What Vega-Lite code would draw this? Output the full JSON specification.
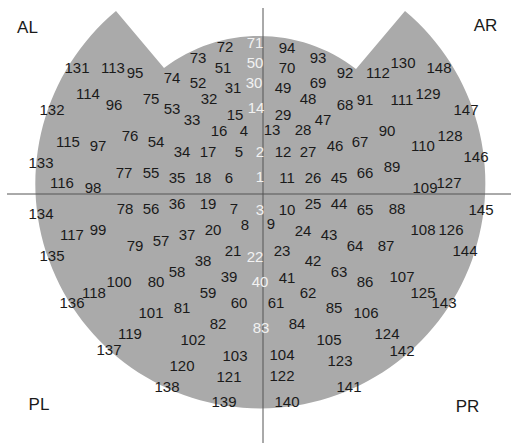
{
  "$schema": "https://vega.github.io/schema/vega-lite/v6.json",
  "width": 511,
  "height": 443,
  "padding": 0,
  "autosize": {"type": "none"},
  "background": "#ffffff",
  "config": {"view": {"stroke": null}},
  "datasets": {
    "sensors": [
      {"ch":1,"x":-3,"y":17,"midline":true},{"ch":2,"x":-3,"y":42,"midline":true},{"ch":3,"x":-3,"y":-16,"midline":true},
      {"ch":4,"x":-19,"y":63,"midline":false},{"ch":5,"x":-24,"y":42,"midline":false},{"ch":6,"x":-34,"y":16,"midline":false},
      {"ch":7,"x":-29,"y":-15,"midline":false},{"ch":8,"x":-18,"y":-31,"midline":false},{"ch":9,"x":8,"y":-30,"midline":false},
      {"ch":10,"x":24,"y":-16,"midline":false},{"ch":11,"x":24,"y":16,"midline":false},{"ch":12,"x":20,"y":42,"midline":false},
      {"ch":13,"x":9,"y":64,"midline":false},{"ch":14,"x":-7,"y":86,"midline":true},{"ch":15,"x":-28,"y":79,"midline":false},
      {"ch":16,"x":-44,"y":63,"midline":false},{"ch":17,"x":-55,"y":42,"midline":false},{"ch":18,"x":-60,"y":16,"midline":false},
      {"ch":19,"x":-55,"y":-10,"midline":false},{"ch":20,"x":-50,"y":-36,"midline":false},{"ch":21,"x":-30,"y":-57,"midline":false},
      {"ch":22,"x":-8,"y":-63,"midline":true},{"ch":23,"x":19,"y":-57,"midline":false},{"ch":24,"x":40,"y":-37,"midline":false},
      {"ch":25,"x":50,"y":-10,"midline":false},{"ch":26,"x":50,"y":16,"midline":false},{"ch":27,"x":45,"y":42,"midline":false},
      {"ch":28,"x":40,"y":64,"midline":false},{"ch":29,"x":20,"y":79,"midline":false},{"ch":30,"x":-9,"y":111,"midline":true},
      {"ch":31,"x":-30,"y":106,"midline":false},{"ch":32,"x":-54,"y":95,"midline":false},{"ch":33,"x":-71,"y":74,"midline":false},
      {"ch":34,"x":-81,"y":42,"midline":false},{"ch":35,"x":-86,"y":16,"midline":false},{"ch":36,"x":-86,"y":-10,"midline":false},
      {"ch":37,"x":-76,"y":-41,"midline":false},{"ch":38,"x":-60,"y":-67,"midline":false},{"ch":39,"x":-34,"y":-83,"midline":false},
      {"ch":40,"x":-3,"y":-88,"midline":true},{"ch":41,"x":24,"y":-84,"midline":false},{"ch":42,"x":50,"y":-67,"midline":false},
      {"ch":43,"x":66,"y":-41,"midline":false},{"ch":44,"x":76,"y":-10,"midline":false},{"ch":45,"x":76,"y":16,"midline":false},
      {"ch":46,"x":72,"y":48,"midline":false},{"ch":47,"x":60,"y":74,"midline":false},{"ch":48,"x":45,"y":95,"midline":false},
      {"ch":49,"x":20,"y":106,"midline":false},{"ch":50,"x":-8,"y":131,"midline":true},{"ch":51,"x":-40,"y":126,"midline":false},
      {"ch":52,"x":-65,"y":111,"midline":false},{"ch":53,"x":-91,"y":85,"midline":false},{"ch":54,"x":-107,"y":52,"midline":false},
      {"ch":55,"x":-112,"y":21,"midline":false},{"ch":56,"x":-112,"y":-15,"midline":false},{"ch":57,"x":-102,"y":-47,"midline":false},
      {"ch":58,"x":-86,"y":-78,"midline":false},{"ch":59,"x":-55,"y":-99,"midline":false},{"ch":60,"x":-24,"y":-109,"midline":false},
      {"ch":61,"x":13,"y":-109,"midline":false},{"ch":62,"x":45,"y":-99,"midline":false},{"ch":63,"x":76,"y":-78,"midline":false},
      {"ch":64,"x":92,"y":-52,"midline":false},{"ch":65,"x":102,"y":-16,"midline":false},{"ch":66,"x":102,"y":21,"midline":false},
      {"ch":67,"x":97,"y":52,"midline":false},{"ch":68,"x":82,"y":89,"midline":false},{"ch":69,"x":55,"y":111,"midline":false},
      {"ch":70,"x":24,"y":126,"midline":false},{"ch":71,"x":-8,"y":151,"midline":true},{"ch":72,"x":-38,"y":147,"midline":false},
      {"ch":73,"x":-65,"y":136,"midline":false},{"ch":74,"x":-91,"y":116,"midline":false},{"ch":75,"x":-112,"y":95,"midline":false},
      {"ch":76,"x":-133,"y":58,"midline":false},{"ch":77,"x":-139,"y":21,"midline":false},{"ch":78,"x":-138,"y":-15,"midline":false},
      {"ch":79,"x":-128,"y":-52,"midline":false},{"ch":80,"x":-107,"y":-88,"midline":false},{"ch":81,"x":-81,"y":-114,"midline":false},
      {"ch":82,"x":-45,"y":-130,"midline":false},{"ch":83,"x":-2,"y":-134,"midline":true},{"ch":84,"x":34,"y":-130,"midline":false},
      {"ch":85,"x":71,"y":-114,"midline":false},{"ch":86,"x":102,"y":-88,"midline":false},{"ch":87,"x":123,"y":-52,"midline":false},
      {"ch":88,"x":134,"y":-15,"midline":false},{"ch":89,"x":129,"y":27,"midline":false},{"ch":90,"x":124,"y":63,"midline":false},
      {"ch":91,"x":102,"y":94,"midline":false},{"ch":92,"x":82,"y":121,"midline":false},{"ch":93,"x":55,"y":136,"midline":false},
      {"ch":94,"x":24,"y":146,"midline":false},{"ch":95,"x":-128,"y":121,"midline":false},{"ch":96,"x":-149,"y":89,"midline":false},
      {"ch":97,"x":-165,"y":48,"midline":false},{"ch":98,"x":-170,"y":6,"midline":false},{"ch":99,"x":-165,"y":-36,"midline":false},
      {"ch":100,"x":-144,"y":-88,"midline":false},{"ch":101,"x":-112,"y":-119,"midline":false},{"ch":102,"x":-70,"y":-146,"midline":false},
      {"ch":103,"x":-28,"y":-162,"midline":false},{"ch":104,"x":19,"y":-161,"midline":false},{"ch":105,"x":66,"y":-146,"midline":false},
      {"ch":106,"x":103,"y":-119,"midline":false},{"ch":107,"x":139,"y":-83,"midline":false},{"ch":108,"x":160,"y":-36,"midline":false},
      {"ch":109,"x":162,"y":6,"midline":false},{"ch":110,"x":160,"y":48,"midline":false},{"ch":111,"x":139,"y":94,"midline":false},
      {"ch":112,"x":115,"y":121,"midline":false},{"ch":113,"x":-150,"y":126,"midline":false},{"ch":114,"x":-175,"y":100,"midline":false},
      {"ch":115,"x":-195,"y":52,"midline":false},{"ch":116,"x":-201,"y":11,"midline":false},{"ch":117,"x":-191,"y":-41,"midline":false},
      {"ch":118,"x":-169,"y":-99,"midline":false},{"ch":119,"x":-133,"y":-140,"midline":false},{"ch":120,"x":-81,"y":-172,"midline":false},
      {"ch":121,"x":-34,"y":-183,"midline":false},{"ch":122,"x":19,"y":-182,"midline":false},{"ch":123,"x":77,"y":-167,"midline":false},
      {"ch":124,"x":124,"y":-140,"midline":false},{"ch":125,"x":160,"y":-99,"midline":false},{"ch":126,"x":188,"y":-36,"midline":false},
      {"ch":127,"x":186,"y":11,"midline":false},{"ch":128,"x":187,"y":58,"midline":false},{"ch":129,"x":165,"y":100,"midline":false},
      {"ch":130,"x":140,"y":131,"midline":false},{"ch":131,"x":-186,"y":126,"midline":false},{"ch":132,"x":-211,"y":84,"midline":false},
      {"ch":133,"x":-222,"y":31,"midline":false},{"ch":134,"x":-222,"y":-20,"midline":false},{"ch":135,"x":-211,"y":-62,"midline":false},
      {"ch":136,"x":-191,"y":-109,"midline":false},{"ch":137,"x":-154,"y":-156,"midline":false},{"ch":138,"x":-96,"y":-193,"midline":false},
      {"ch":139,"x":-39,"y":-208,"midline":false},{"ch":140,"x":24,"y":-208,"midline":false},{"ch":141,"x":86,"y":-193,"midline":false},
      {"ch":142,"x":139,"y":-157,"midline":false},{"ch":143,"x":181,"y":-109,"midline":false},{"ch":144,"x":202,"y":-57,"midline":false},
      {"ch":145,"x":218,"y":-16,"midline":false},{"ch":146,"x":213,"y":37,"midline":false},{"ch":147,"x":203,"y":84,"midline":false},
      {"ch":148,"x":176,"y":126,"midline":false}
    ],
    "quadrants": [
      {"label":"AL","x":-235.5,"y":166},
      {"label":"AR","x":222.5,"y":168},
      {"label":"PL","x":-224,"y":-211},
      {"label":"PR","x":204.5,"y":-213}
    ],
    "axes": [
      {"x":-256,"x2":248,"y":0,"y2":0},
      {"x":0,"x2":0,"y":186,"y2":-249}
    ],
    "head": [
      {"x":0,"y":0}
    ]
  },
  "layer": [
    {
      "data": {"name": "head"},
      "mark": {
        "type": "point",
        "shape": "M-147,-183 A225,225 0 1 0 142,-183 L93,-125 A158,158 0 0 0 -99,-126 Z",
        "size": 4,
        "filled": true,
        "fill": "#aaaaaa",
        "strokeWidth": 0,
        "opacity": 1
      },
      "encoding": {
        "x": {"field": "x", "type": "quantitative", "scale": {"domain": [-263, 248], "nice": false, "zero": false}, "axis": null},
        "y": {"field": "y", "type": "quantitative", "scale": {"domain": [-249, 194], "nice": false, "zero": false}, "axis": null}
      }
    },
    {
      "data": {"name": "axes"},
      "mark": {"type": "rule", "color": "#555555", "strokeWidth": 1},
      "encoding": {
        "x": {"field": "x", "type": "quantitative", "axis": null},
        "x2": {"field": "x2"},
        "y": {"field": "y", "type": "quantitative", "axis": null},
        "y2": {"field": "y2"}
      }
    },
    {
      "data": {"name": "sensors"},
      "mark": {"type": "text", "font": "Liberation Sans", "fontSize": 15, "align": "center", "baseline": "middle"},
      "encoding": {
        "x": {"field": "x", "type": "quantitative", "axis": null},
        "y": {"field": "y", "type": "quantitative", "axis": null},
        "text": {"field": "ch", "type": "nominal"},
        "color": {"condition": {"test": "datum.midline", "value": "#f2f2f2"}, "value": "#1a1a1a"}
      }
    },
    {
      "data": {"name": "quadrants"},
      "mark": {"type": "text", "font": "Liberation Sans", "fontSize": 17, "align": "center", "baseline": "middle", "color": "#1a1a1a"},
      "encoding": {
        "x": {"field": "x", "type": "quantitative", "axis": null},
        "y": {"field": "y", "type": "quantitative", "axis": null},
        "text": {"field": "label", "type": "nominal"}
      }
    }
  ]
}
